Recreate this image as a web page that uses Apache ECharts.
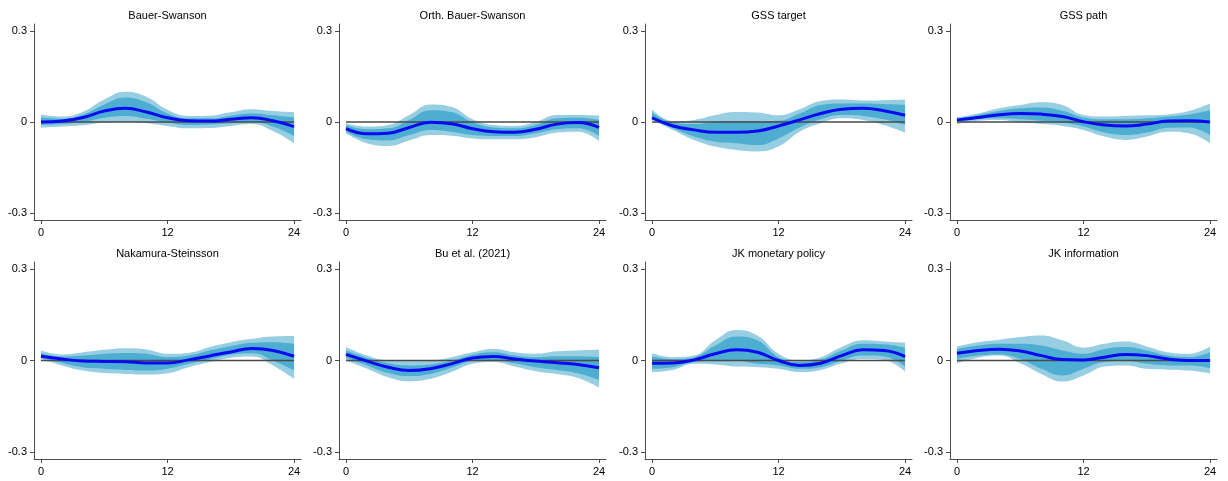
<!DOCTYPE html>
<html>
<head>
<meta charset="utf-8">
<script src="https://cdn.jsdelivr.net/npm/echarts@6/dist/echarts.min.js"></script>
<style>
  html, body { margin: 0; padding: 0; background: #fff; }
  #chart { width: 1228px; height: 481px; }
</style>
</head>
<body>
<div id="chart"></div>
<script>
// Impulse responses (months 0..24) with 68% and 90% bands, one panel per shock
const horizons = [0, 2, 4, 6, 8, 10, 12, 14, 16, 18, 20, 22, 24];
const xTicks = [0, 12, 24];
const yTicks = [-0.3, 0, 0.3];

const titles = [
  'Bauer-Swanson', 'Orth. Bauer-Swanson', 'GSS target', 'GSS path',
  'Nakamura-Steinsson', 'Bu et al. (2021)', 'JK monetary policy', 'JK information'
];

const response = [
  [0.000, 0.003, 0.015, 0.036, 0.045, 0.033, 0.014, 0.004, 0.003, 0.009, 0.014, 0.004, -0.015],
  [-0.022, -0.039, -0.037, -0.018, -0.001, -0.006, -0.022, -0.032, -0.034, -0.024, -0.007, -0.002, -0.018],
  [0.014, -0.013, -0.026, -0.034, -0.034, -0.030, -0.013, 0.007, 0.028, 0.042, 0.045, 0.037, 0.022],
  [0.007, 0.015, 0.024, 0.028, 0.026, 0.018, 0.001, -0.010, -0.013, -0.007, 0.003, 0.004, 0.000],
  [0.014, 0.005, -0.002, -0.003, -0.004, -0.008, -0.008, 0.002, 0.015, 0.028, 0.039, 0.033, 0.014],
  [0.020, -0.002, -0.022, -0.033, -0.027, -0.011, 0.008, 0.013, 0.005, -0.002, -0.007, -0.013, -0.024],
  [-0.009, -0.008, 0.002, 0.022, 0.035, 0.027, 0.000, -0.016, -0.009, 0.016, 0.035, 0.033, 0.013],
  [0.024, 0.033, 0.037, 0.031, 0.016, 0.003, 0.002, 0.011, 0.020, 0.016, 0.005, 0.000, 0.000]
];

const outerHi = [
  [0.025, 0.018, 0.034, 0.074, 0.100, 0.083, 0.040, 0.020, 0.021, 0.032, 0.042, 0.036, 0.032],
  [-0.004, -0.015, -0.010, 0.023, 0.058, 0.050, 0.009, -0.010, -0.013, 0.000, 0.023, 0.023, 0.021],
  [0.042, 0.003, 0.007, 0.023, 0.033, 0.031, 0.022, 0.042, 0.069, 0.074, 0.071, 0.072, 0.074],
  [0.015, 0.028, 0.045, 0.056, 0.065, 0.056, 0.023, 0.018, 0.020, 0.022, 0.025, 0.036, 0.061],
  [0.033, 0.020, 0.027, 0.035, 0.040, 0.036, 0.022, 0.025, 0.044, 0.060, 0.071, 0.079, 0.080],
  [0.044, 0.016, 0.000, -0.002, 0.000, 0.011, 0.027, 0.038, 0.027, 0.022, 0.030, 0.033, 0.035],
  [0.025, 0.011, 0.016, 0.066, 0.100, 0.082, 0.022, 0.000, 0.011, 0.044, 0.066, 0.062, 0.058],
  [0.046, 0.060, 0.068, 0.077, 0.082, 0.066, 0.042, 0.055, 0.062, 0.046, 0.027, 0.022, 0.046]
];

const outerLo = [
  [-0.019, -0.015, -0.011, -0.002, 0.000, -0.004, -0.013, -0.021, -0.020, -0.013, -0.007, -0.030, -0.070],
  [-0.037, -0.070, -0.079, -0.061, -0.043, -0.045, -0.054, -0.057, -0.057, -0.050, -0.035, -0.032, -0.062],
  [0.007, -0.026, -0.059, -0.081, -0.092, -0.097, -0.081, -0.032, -0.004, 0.012, 0.007, -0.010, -0.035],
  [-0.007, 0.004, 0.007, -0.002, -0.007, -0.013, -0.026, -0.048, -0.059, -0.048, -0.032, -0.037, -0.070],
  [0.005, -0.016, -0.033, -0.041, -0.044, -0.046, -0.042, -0.022, -0.005, 0.009, 0.013, -0.016, -0.060],
  [0.000, -0.027, -0.055, -0.068, -0.060, -0.038, -0.011, -0.005, -0.020, -0.035, -0.044, -0.057, -0.088],
  [-0.038, -0.031, -0.011, -0.013, -0.020, -0.022, -0.027, -0.038, -0.031, -0.009, 0.005, 0.002, -0.036],
  [-0.009, 0.009, 0.016, -0.009, -0.044, -0.069, -0.049, -0.020, -0.016, -0.027, -0.030, -0.033, -0.042]
];

const innerHi = [
  [0.015, 0.011, 0.025, 0.058, 0.081, 0.065, 0.028, 0.012, 0.012, 0.021, 0.028, 0.022, 0.015],
  [-0.011, -0.024, -0.021, 0.007, 0.039, 0.033, -0.001, -0.018, -0.021, -0.010, 0.012, 0.014, 0.007],
  [0.031, -0.002, -0.007, 0.001, 0.003, 0.003, 0.004, 0.028, 0.056, 0.061, 0.061, 0.059, 0.056],
  [0.011, 0.023, 0.036, 0.045, 0.048, 0.037, 0.015, 0.009, 0.009, 0.012, 0.018, 0.025, 0.039],
  [0.025, 0.013, 0.016, 0.022, 0.025, 0.022, 0.011, 0.016, 0.033, 0.047, 0.058, 0.060, 0.055],
  [0.033, 0.009, -0.009, -0.016, -0.013, 0.000, 0.019, 0.027, 0.016, 0.011, 0.014, 0.014, 0.011],
  [0.013, 0.004, 0.011, 0.049, 0.079, 0.066, 0.011, -0.005, 0.003, 0.033, 0.055, 0.053, 0.042],
  [0.038, 0.049, 0.055, 0.055, 0.049, 0.033, 0.022, 0.038, 0.044, 0.033, 0.016, 0.011, 0.027]
];

const innerLo = [
  [-0.010, -0.007, 0.000, 0.014, 0.020, 0.011, -0.002, -0.010, -0.008, -0.004, 0.001, -0.015, -0.046],
  [-0.032, -0.057, -0.061, -0.043, -0.026, -0.032, -0.043, -0.046, -0.046, -0.037, -0.024, -0.021, -0.046],
  [0.009, -0.021, -0.048, -0.065, -0.070, -0.076, -0.054, -0.018, 0.009, 0.023, 0.020, 0.009, -0.010],
  [0.000, 0.010, 0.012, 0.009, 0.004, -0.002, -0.015, -0.035, -0.043, -0.035, -0.019, -0.018, -0.043],
  [0.009, -0.008, -0.022, -0.027, -0.031, -0.033, -0.027, -0.011, 0.004, 0.019, 0.024, 0.000, -0.033],
  [0.009, -0.016, -0.041, -0.051, -0.044, -0.024, -0.002, 0.002, -0.009, -0.022, -0.031, -0.042, -0.064],
  [-0.027, -0.022, -0.005, -0.002, -0.002, -0.011, -0.016, -0.027, -0.022, 0.000, 0.016, 0.013, -0.020],
  [0.005, 0.016, 0.020, 0.005, -0.027, -0.049, -0.027, -0.005, -0.002, -0.011, -0.016, -0.016, -0.025]
];

const OUTER_COLOR = '#97cee2';
const INNER_COLOR = '#4daed2';
const LINE_COLOR = '#0a0af0';
const AXIS_COLOR = '#4d4d4d';
const FONT = 'Arial, "Liberation Sans", sans-serif';

// Panel layout: 4 columns x 2 rows; the frame axes run a little past 0 and 24
const gridLeft = [34, 339, 645, 950];
const gridWidth = 267;
const gridTop = [24, 262];
const gridHeight = [196, 197];
const X_MIN = -0.66, X_MAX = 24.66, Y_MIN = -0.323, Y_MAX = 0.323;

const grids = [], xAxes = [], yAxes = [], series = [], graphics = [];
const spans = (lo, hi) => lo.map((v, k) => +(hi[k] - v).toFixed(4));
const zeros = horizons.map(() => 0);

titles.forEach((name, i) => {
  const col = i % 4, row = Math.floor(i / 4);
  const frame = 2 * i, plot = 2 * i + 1;
  const plotLeft = gridLeft[col] + gridWidth * (0 - X_MIN) / (X_MAX - X_MIN);
  const plotWidth = gridWidth * 24 / (X_MAX - X_MIN);

  // frame grid: visible axes with ticks
  grids.push({ left: gridLeft[col], top: gridTop[row], width: gridWidth, height: gridHeight[row] });
  xAxes.push({
    type: 'value', gridIndex: frame, min: X_MIN, max: X_MAX,
    axisLine: { show: true, onZero: false, lineStyle: { color: AXIS_COLOR, width: 1 } },
    axisTick: { show: true, length: 4, customValues: xTicks, lineStyle: { color: AXIS_COLOR } },
    axisLabel: { customValues: xTicks, color: '#000', fontSize: 11, fontFamily: FONT, margin: 7 },
    splitLine: { show: false }
  });
  yAxes.push({
    type: 'value', gridIndex: frame, min: Y_MIN, max: Y_MAX,
    axisLine: { show: true, onZero: false, lineStyle: { color: AXIS_COLOR, width: 1 } },
    axisTick: { show: true, length: 4, customValues: yTicks, lineStyle: { color: AXIS_COLOR } },
    axisLabel: {
      customValues: yTicks, color: '#000', fontSize: 11, fontFamily: FONT, margin: 7,
      formatter: (v) => (Math.abs(v) < 1e-9 ? '0' : v.toFixed(1))
    },
    splitLine: { show: false }
  });

  // plot grid: horizons 0..24 spanning exactly the tick positions 0 and 24
  grids.push({ left: plotLeft, top: gridTop[row], width: plotWidth, height: gridHeight[row] });
  xAxes.push({
    type: 'category', gridIndex: plot, data: horizons.map(String), boundaryGap: false, show: false
  });
  yAxes.push({ type: 'value', gridIndex: plot, min: Y_MIN, max: Y_MAX, show: false });

  const common = {
    type: 'line', xAxisIndex: plot, yAxisIndex: plot, smooth: 0.45, symbol: 'none',
    silent: true, stackStrategy: 'all'
  };
  const hidden = { width: 0, opacity: 0 };

  // 90% band
  series.push(Object.assign({}, common, { stack: 'outer' + i, data: outerLo[i], lineStyle: hidden }));
  series.push(Object.assign({}, common, {
    stack: 'outer' + i, data: spans(outerLo[i], outerHi[i]), lineStyle: hidden,
    areaStyle: { color: OUTER_COLOR, opacity: 1 }
  }));
  // 68% band
  series.push(Object.assign({}, common, { stack: 'inner' + i, data: innerLo[i], lineStyle: hidden }));
  series.push(Object.assign({}, common, {
    stack: 'inner' + i, data: spans(innerLo[i], innerHi[i]), lineStyle: hidden,
    areaStyle: { color: INNER_COLOR, opacity: 1 }
  }));
  // zero reference line
  series.push({
    type: 'line', xAxisIndex: plot, yAxisIndex: plot, symbol: 'none', silent: true,
    data: zeros, lineStyle: { color: '#4a4a4a', width: 1.5 }
  });
  // point estimate
  series.push({
    type: 'line', xAxisIndex: plot, yAxisIndex: plot, smooth: 0.45, symbol: 'none', silent: true,
    data: response[i], lineStyle: { color: LINE_COLOR, width: 3 }
  });

  // panel title, centred over the horizon range
  graphics.push({
    type: 'text', x: plotLeft + plotWidth / 2, y: row === 0 ? 16 : 254,
    style: {
      text: name, fill: '#000', font: '11px ' + FONT,
      textAlign: 'center', textVerticalAlign: 'middle'
    }
  });
});

const chart = echarts.init(document.getElementById('chart'), null, { renderer: 'canvas' });
chart.setOption({
  animation: false,
  backgroundColor: '#fff',
  grid: grids,
  xAxis: xAxes,
  yAxis: yAxes,
  series: series,
  graphic: graphics
});
</script>
</body>
</html>
